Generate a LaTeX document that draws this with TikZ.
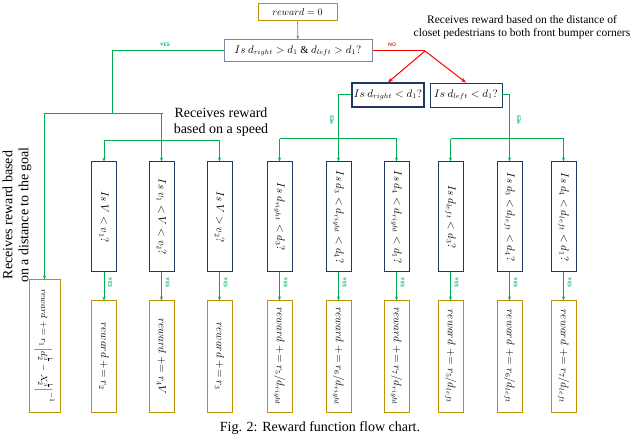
\documentclass[tikz,border=0pt]{standalone}
\usepackage{fontspec}
\setmainfont{Liberation Serif}
\usetikzlibrary{arrows.meta}
\definecolor{gr}{RGB}{0,176,80}
\definecolor{nv}{RGB}{31,56,100}
\definecolor{gd}{RGB}{191,144,0}
\tikzset{
 q/.style={draw=nv,line width=1pt,fill=white,minimum width=25pt,minimum height=110pt,inner sep=0pt},
 rb/.style={draw=gd,line width=1pt,fill=white,minimum width=25pt,minimum height=111pt,inner sep=0pt},
 tq/.style={rotate=-90,font=\fontsize{10.5}{11}\selectfont},
 g/.style={draw=gr,line width=1pt},
 ga/.style={g,-{Stealth[length=4pt]}},
 ra/.style={draw=red,line width=1pt,-{Stealth[length=5pt]}},
 yes/.style={text=gr,font=\sffamily\bfseries\fontsize{5}{5}\selectfont},
 ann/.style={font=\fontsize{14}{16}\selectfont},
}
\newcommand{\pe}{\mathrel{+}=}
\begin{document}
\begin{tikzpicture}[x=1pt,y=-1pt]
\useasboundingbox (0,0) rectangle (640,438);
\clip (0,0) rectangle (640,438);
\node[draw=gd,line width=1pt,minimum width=79pt,minimum height=17pt,inner sep=0pt] (r0) at (297.5,12.5) {\fontsize{10}{10}\selectfont $reward=0$};
\node[draw=nv!60,line width=1pt,minimum width=148pt,minimum height=22pt,inner sep=0pt] (q1) at (298,51) {\fontsize{10.5}{11}\selectfont $Is\ d_{right}>d_1\ \&\ d_{left}>d_1?$};
\node[draw=nv,line width=1.2pt,minimum width=72pt,minimum height=24pt,inner sep=0pt] (q2) at (388,95) {\fontsize{10.5}{11}\selectfont $Is\ d_{right}<d_1?$};
\node[draw=nv,line width=0.8pt,minimum width=72pt,minimum height=24pt,inner sep=0pt] (q3) at (466,95) {\fontsize{10.5}{11}\selectfont $Is\ d_{left}<d_1?$};
\draw[draw=nv!60,line width=0.8pt,-{Stealth[length=4pt]}] (r0) -- (q1);
\foreach \n/\x/\t in {a/104/{Is\ V<v_1?},b/161.5/{Is\ v_1<V<v_2?},c/219.5/{Is\ V>v_2?},d/279.5/{Is\ d_{right}<d_3?},e/338.5/{Is\ d_3<d_{right}<d_4?},f/396.5/{Is\ d_4<d_{right}<d_1?},g/450.5/{Is\ d_{left}<d_3?},h/509.5/{Is\ d_3<d_{left}<d_4?},i/563.5/{Is\ d_4<d_{left}<d_1?}}{
 \node[q] (q\n) at (\x,217) {};
 \node[tq] at (q\n) {$\t$};
}
\foreach \n/\x/\t in {a/104/{reward\pe r_2},b/161.5/{reward\pe r_4V},c/219.5/{reward\pe r_3},d/279.5/{reward\pe r_5/d_{right}},e/338.5/{reward\pe r_6/d_{right}},f/396.5/{reward\pe r_7/d_{right}},g/450.5/{reward\pe r_5/d_{left}},h/509.5/{reward\pe r_6/d_{left}},i/563.5/{reward\pe r_7/d_{left}}}{
 \node[rb] (r\n) at (\x,356.5) {};
 \node[tq] at (r\n) {$\t$};
 \draw[ga] (q\n) -- (r\n);
 \node[yes,rotate=-90] at ([xshift=6pt,yshift=-10pt]q\n.south) {YES};
}
\node[draw=gd,line width=1pt,minimum width=31pt,minimum height=132pt,inner sep=0pt] (rg) at (44.5,346) {};
\node[tq,font=\fontsize{9.5}{10}\selectfont] at (rg) {$reward\pe r_1\left|d_2^{\frac13}-X_2^{\frac13}\right|^{-1}$};
\coordinate (j1) at (112,114);
\draw[g] (q1.west) -| (j1);
\node[yes] at (165,45) {YES};
\draw[ga] (44,114) -| (rg.north);
\draw[g] (44,114) -- (163,114);
\draw[ga] (161.5,114) -- (qb.north);
\draw[g] (104,141) -- (219.5,141);
\draw[ga] (104,141) -- (qa.north);
\draw[ga] (219.5,141) -- (qc.north);
\coordinate (j2) at (425,51);
\draw[draw=red,line width=1pt] (q1.east) -- (j2);
\node[text=red,font=\sffamily\bfseries\fontsize{5}{5}\selectfont] at (392,45) {NO};
\draw[ra] (j2) -- (q2.north);
\draw[ra] (j2) -- (q3.north);
\draw[ga] (q2.west) -| (qe.north);
\draw[g] (279.5,139) -- (396.5,139);
\draw[ga] (279.5,139) -- (qd.north);
\draw[ga] (396.5,139) -- (qf.north);
\node[yes,rotate=90] at (332,120) {YES};
\draw[ga] (q3.east) -| (qh.north);
\draw[g] (450.5,139) -- (563.5,139);
\draw[ga] (450.5,139) -- (qg.north);
\draw[ga] (563.5,139) -- (qi.north);
\node[yes,rotate=90] at (519,120) {YES};
\node[ann,font=\fontsize{11.5}{13}\selectfont,align=center] (t1) at (522,27) {Receives reward based on the distance of\\closet pedestrians to both front bumper corners};
\node[ann,align=center] (t3) at (221,122) {Receives reward\\based on a speed};
\node[ann,align=center,rotate=90] (t4) at (17,215) {Receives reward based\\on a distance to the goal};
\node[ann,font=\fontsize{14}{15}\selectfont] (cap) at (320,428) {Fig. 2: Reward function flow chart.};
\end{tikzpicture}
\end{document}
